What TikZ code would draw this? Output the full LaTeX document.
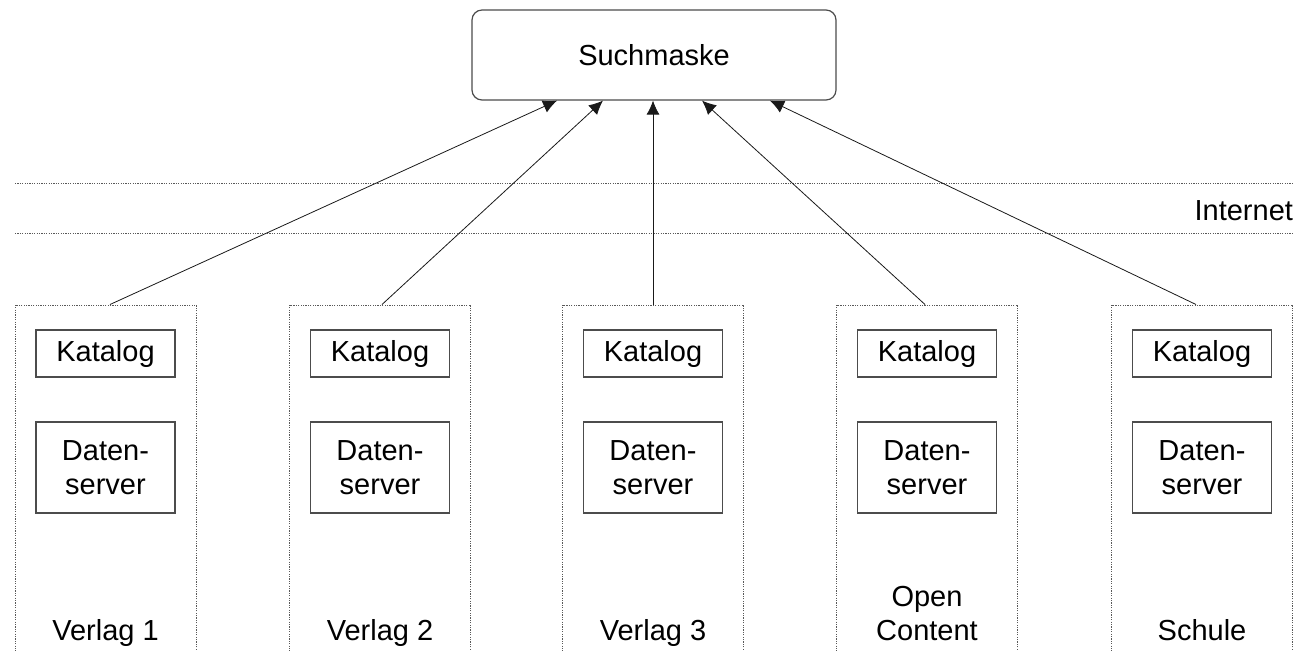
\documentclass[tikz,border=0pt]{standalone}
\usepackage{fontspec}
\setmainfont{Liberation Sans}
\usetikzlibrary{arrows.meta,calc}

\begin{document}
\begin{tikzpicture}[x=0.5pt,y=-0.5pt,
    every node/.style={font=\fontsize{14.5}{17}\selectfont},
    suche/.style={draw=gray!60!black, line width=0.6pt, rounded corners=5pt,
        minimum width=182pt, minimum height=45pt},
    anbieter/.style={draw=gray!70!black, line width=0.5pt, dash pattern=on 0.6pt off 0.6pt,
        minimum width=90.5pt, minimum height=187.5pt},
    kasten/.style={draw=gray!60!black, line width=0.6pt, minimum width=69.5pt,
        align=center, inner sep=0pt},
    netz/.style={gray!70!black, line width=0.5pt, dash pattern=on 0.6pt off 0.6pt},
    pfeil/.style={-{Latex[length=7pt,width=6.5pt]}, gray!20!black, line width=0.4pt}]
    \useasboundingbox (0,0) rectangle (1310,650);
    \clip (0,0) rectangle (1310,650);

    % Suchmaske oben
    \node[suche] (such) at (654,55) {Suchmaske};

    % Internet
    \draw[netz] (15,183) -- (1294,183);
    \draw[netz] (15,233) -- (1294,233);
    \node[anchor=east] (internet) at (1300,211) {Internet};

    % Anbieter mit Katalog und Datenserver
    \foreach \x/\name/\label/\s/\e in {105.5/v1/Verlag 1/4.5/-97,
            380/v2/Verlag 2/2/-51,
            653/v3/Verlag 3/0/-1,
            927/oc/{Open\\Content}/-2/48,
            1202/schule/Schule/-6/116}{
        \node[anbieter] (\name) at (\x,492.5) {};
        \node[kasten, minimum height=23.5pt] (\name-kat) at (\x,353.5) {Katalog};
        \node[kasten, minimum height=45.5pt] (\name-dat) at (\x,467.5) {Daten-\\server};
        \node[anchor=base, align=center] (\name-txt) at (\x,640) {\label};
        \draw[pfeil] ($(\name.north)+(\s,0)$) -- ($(such.south)+(\e,0)$);
    }
\end{tikzpicture}
\end{document}
